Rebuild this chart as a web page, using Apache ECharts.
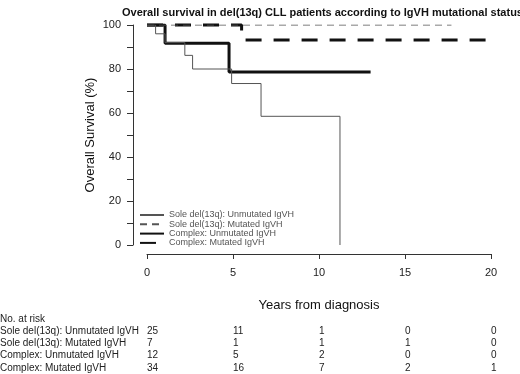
<!DOCTYPE html>
<html>
<head>
<meta charset="utf-8">
<script src="https://cdn.jsdelivr.net/npm/echarts@6/dist/echarts.min.js"></script>
<style>
  html, body { margin: 0; padding: 0; background: #fff; }
  #chart { width: 520px; height: 374px; }
</style>
</head>
<body>
<div id="chart"></div>
<script>
// Kaplan-Meier steps (years, % surviving)
const soleUnmutTimes = [0, 0.5, 1.05, 2.2, 2.65, 4.92, 6.63, 11.22]
const soleUnmutSurv = [100, 96, 92, 86.2, 80, 73.4, 58.5, 0]
const soleMutTimes = [0, 17.7]
const soleMutSurv = [100, 100]
const complexUnmutTimes = [0, 1.05, 4.77, 13.0]
const complexUnmutSurv = [100, 91.7, 78.6, 78.6]
const complexMutTimes = [0, 5.5, 5.6, 20.8]
const complexMutSurv = [100, 96.9, 93.2, 93.2]

const seriesNames = [
  'Sole del(13q): Unmutated IgVH',
  'Sole del(13q): Mutated IgVH',
  'Complex: Unmutated IgVH',
  'Complex: Mutated IgVH'
]

// numbers at risk
const riskYears = [0, 5, 10, 15, 20]
const riskSoleUnmut = [25, 11, 1, 0, 0]
const riskSoleMut = [7, 1, 1, 1, 0]
const riskComplexUnmut = [12, 5, 2, 0, 0]
const riskComplexMut = [34, 16, 7, 2, 1]

const pairs = (t, s) => t.map((x, i) => [x, s[i]])

const chart = echarts.init(document.getElementById('chart'))
const font = 'Liberation Sans, Arial, sans-serif'
const axisColor = '#333'

const option = {
  animation: false,
  textStyle: { fontFamily: font },
  title: {
    text: 'Overall survival in del(13q) CLL patients according to IgVH mutational status',
    left: 117,
    top: 2,
    textStyle: { fontSize: 11, fontWeight: 'bold', color: '#111', fontFamily: font }
  },
  legend: {
    orient: 'vertical',
    left: 134,
    top: 205.5,
    itemWidth: 24,
    itemHeight: 9,
    itemGap: 0.3,
    itemStyle: { opacity: 0 },
    textStyle: { fontSize: 9, color: '#555', fontFamily: font },
    data: seriesNames
  },
  grid: { left: 147, right: 29, top: 25, bottom: 129 },
  xAxis: {
    type: 'value',
    min: 0,
    max: 20,
    interval: 5,
    offset: 9,
    name: 'Years from diagnosis',
    nameLocation: 'middle',
    nameGap: 45,
    nameTextStyle: { fontSize: 13, color: '#111' },
    axisLine: { show: true, onZero: false, lineStyle: { color: axisColor, width: 1 } },
    axisTick: { show: true, inside: false, length: 5, lineStyle: { color: axisColor } },
    axisLabel: { fontSize: 11, color: '#222', margin: 13 },
    splitLine: { show: false }
  },
  yAxis: {
    type: 'value',
    min: 0,
    max: 100,
    interval: 10,
    offset: 14,
    name: 'Overall Survival (%)',
    nameLocation: 'middle',
    nameGap: 36,
    nameMoveOverlap: false,
    nameTextStyle: { fontSize: 13, color: '#111' },
    axisLine: { show: true, onZero: false, lineStyle: { color: axisColor, width: 1 } },
    axisTick: { show: true, length: 6, lineStyle: { color: axisColor } },
    axisLabel: {
      fontSize: 11,
      color: '#222',
      margin: 12,
      formatter: v => (v % 20 === 0 ? String(v) : '')
    },
    splitLine: { show: false }
  },
  series: [
    {
      name: seriesNames[0],
      type: 'line',
      step: 'end',
      symbol: 'none',
      data: pairs(soleUnmutTimes, soleUnmutSurv),
      lineStyle: { color: '#555', width: 1 },
      itemStyle: { color: '#555' },
      z: 4
    },
    {
      name: seriesNames[1],
      type: 'line',
      step: 'end',
      symbol: 'none',
      data: pairs(soleMutTimes, soleMutSurv),
      lineStyle: { color: '#555', width: 1, type: [7, 5] },
      itemStyle: { color: '#555' },
      z: 3
    },
    {
      name: seriesNames[2],
      type: 'line',
      step: 'end',
      symbol: 'none',
      data: pairs(complexUnmutTimes, complexUnmutSurv),
      lineStyle: { color: '#111', width: 3 },
      itemStyle: { color: '#111' },
      z: 2
    },
    {
      name: seriesNames[3],
      type: 'line',
      step: 'end',
      symbol: 'none',
      clip: false,
      data: pairs(complexMutTimes, complexMutSurv),
      lineStyle: { color: '#111', width: 3, type: [16, 12] },
      itemStyle: { color: '#111' },
      z: 2
    }
  ]
}

chart.setOption(option)

// risk table under the plot, numbers placed at the x axis positions
const riskRows = [riskSoleUnmut, riskSoleMut, riskComplexUnmut, riskComplexMut]
const rowY = [331, 343, 355.5, 368]
const riskText = (text, x, y) => ({
  type: 'text',
  x: x,
  y: y,
  style: { text: text, fontSize: 10, fill: '#222', fontFamily: font, verticalAlign: 'middle', align: 'left' }
})
const elements = [riskText('No. at risk', 0, 319)]
riskRows.forEach((row, r) => {
  elements.push(riskText(seriesNames[r], 0, rowY[r]))
  row.forEach((n, i) => {
    const px = chart.convertToPixel({ xAxisIndex: 0 }, riskYears[i])
    elements.push(riskText(String(n), px, rowY[r]))
  })
})
chart.setOption({ graphic: elements })
</script>
</body>
</html>
